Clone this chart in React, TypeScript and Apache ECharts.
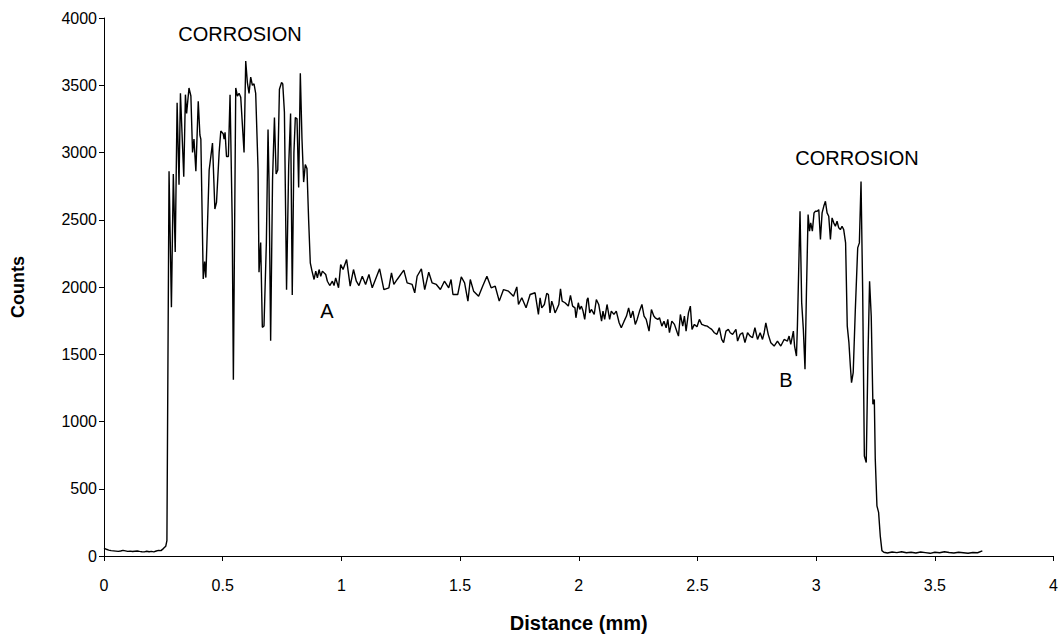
import React, { useEffect, useRef } from "react";
import * as echarts from "echarts";

type P = [number, number];

const xTicks = { min: 0, max: 4, interval: 0.5 };
const yTicks = { min: 0, max: 4000, interval: 500 };

const baselineLeft: P[] = [
  [0, 58], [0.01, 50], [0.02, 44], [0.03, 40], [0.04, 38], [0.05, 36], [0.06, 34], [0.07, 37],
  [0.08, 42], [0.09, 38], [0.1, 34], [0.11, 36], [0.12, 33], [0.13, 35], [0.14, 37], [0.15, 34],
  [0.16, 32], [0.17, 31], [0.18, 35], [0.19, 32], [0.2, 34], [0.21, 31], [0.22, 37], [0.23, 42],
  [0.24, 40], [0.25, 55], [0.26, 72], [0.265, 115],
];

const corrosionLeft: P[] = [
  [0.274, 2860], [0.284, 1850], [0.292, 2840], [0.3, 2260], [0.308, 3370], [0.316, 2760],
  [0.322, 3440], [0.336, 2820], [0.343, 3430], [0.348, 3290], [0.358, 3480], [0.366, 3420],
  [0.373, 3000], [0.379, 3100], [0.387, 2860], [0.397, 3380], [0.404, 3130], [0.408, 3100],
  [0.418, 2060], [0.424, 2190], [0.429, 2070], [0.443, 2870], [0.457, 3070], [0.467, 2580],
  [0.474, 2630], [0.485, 3000], [0.492, 3160], [0.502, 3140], [0.506, 3100], [0.51, 3150],
  [0.516, 2970], [0.524, 2970], [0.531, 3430], [0.54, 2500], [0.545, 1310], [0.555, 3480],
  [0.562, 3420], [0.569, 3440], [0.576, 3410], [0.59, 3000], [0.597, 3680], [0.604, 3520],
  [0.611, 3440], [0.618, 3560], [0.625, 3500], [0.632, 3510], [0.639, 3440], [0.649, 2870],
  [0.653, 2110], [0.66, 2330], [0.667, 1700], [0.674, 1710], [0.684, 2330], [0.691, 3170],
  [0.695, 2800], [0.702, 1600], [0.71, 2800], [0.718, 3260], [0.725, 2840], [0.732, 2870],
  [0.739, 3470], [0.748, 3520], [0.753, 3510], [0.76, 3300], [0.769, 1980], [0.778, 2900],
  [0.786, 3290], [0.793, 1940], [0.8, 3000], [0.806, 3260], [0.813, 3250], [0.82, 2740],
  [0.827, 3590], [0.834, 3100], [0.841, 2780], [0.848, 2910], [0.855, 2880], [0.862, 2500],
  [0.869, 2180], [0.876, 2120],
];

const plateau: P[] = [
  [0.885, 2056], [0.892, 2118], [0.899, 2068], [0.906, 2130], [0.913, 2080], [0.92, 2118],
  [0.934, 2093], [0.941, 2043], [0.951, 2011], [0.962, 2043], [0.969, 2011], [0.976, 2068],
  [0.988, 1994], [0.997, 2167], [1.007, 2130], [1.022, 2204], [1.037, 2006], [1.051, 2130],
  [1.063, 2043], [1.074, 2011], [1.088, 2080], [1.102, 2019], [1.116, 2093], [1.13, 1994],
  [1.161, 2135], [1.179, 1981], [1.2, 1994], [1.211, 2105], [1.221, 2019], [1.235, 2056],
  [1.263, 2125], [1.277, 2031], [1.298, 2019], [1.309, 1957], [1.319, 2080], [1.337, 2135],
  [1.351, 1981], [1.368, 2110], [1.382, 2031], [1.4, 2019], [1.417, 1981], [1.434, 2043],
  [1.452, 1994], [1.462, 2056], [1.47, 1944], [1.49, 1944], [1.505, 2076], [1.519, 2031],
  [1.533, 1895], [1.543, 2056], [1.557, 1969], [1.578, 1932], [1.595, 2006], [1.613, 2080],
  [1.631, 1994], [1.648, 2006], [1.665, 1895], [1.683, 1981], [1.704, 1969], [1.725, 1932],
  [1.739, 2001], [1.746, 1870], [1.76, 1920], [1.778, 1845], [1.795, 1944], [1.816, 1957],
  [1.83, 1796], [1.837, 1920], [1.844, 1845], [1.855, 1870], [1.865, 1952], [1.872, 1944],
  [1.879, 1808], [1.886, 1895], [1.893, 1858], [1.9, 1808], [1.907, 1833], [1.916, 1870],
  [1.923, 1986], [1.93, 1895], [1.942, 1883], [1.956, 1858], [1.965, 1937], [1.974, 1858],
  [1.984, 1845], [1.988, 1771], [1.998, 1883], [2.004, 1833], [2.011, 1858], [2.018, 1821],
  [2.025, 1759], [2.035, 1907], [2.039, 1920], [2.046, 1808], [2.053, 1833], [2.065, 1796],
  [2.074, 1907], [2.084, 1870], [2.096, 1746], [2.102, 1821], [2.109, 1759], [2.119, 1870],
  [2.13, 1759], [2.137, 1821], [2.148, 1796], [2.158, 1821], [2.17, 1734], [2.179, 1697],
  [2.191, 1746], [2.201, 1784], [2.21, 1845], [2.219, 1771], [2.228, 1821], [2.238, 1722],
  [2.246, 1759], [2.256, 1821], [2.266, 1870], [2.275, 1784], [2.284, 1759], [2.296, 1672],
  [2.306, 1833], [2.316, 1784], [2.322, 1771], [2.333, 1759], [2.34, 1771], [2.35, 1709],
  [2.359, 1746], [2.368, 1697], [2.375, 1759], [2.382, 1660], [2.392, 1746], [2.403, 1722],
  [2.415, 1660], [2.42, 1635], [2.428, 1796], [2.438, 1709], [2.445, 1784], [2.452, 1672],
  [2.462, 1808], [2.47, 1858], [2.477, 1685], [2.487, 1722], [2.498, 1704], [2.508, 1759],
  [2.518, 1722], [2.529, 1714], [2.541, 1709], [2.55, 1697], [2.56, 1685], [2.571, 1660],
  [2.582, 1648], [2.592, 1697], [2.602, 1610], [2.61, 1586], [2.62, 1672], [2.63, 1685],
  [2.638, 1660], [2.648, 1648], [2.662, 1685], [2.669, 1598], [2.68, 1648], [2.69, 1660],
  [2.7, 1586], [2.711, 1660], [2.722, 1635], [2.732, 1623], [2.742, 1697], [2.753, 1610],
  [2.764, 1660], [2.774, 1610], [2.781, 1660], [2.788, 1734], [2.798, 1648], [2.809, 1586],
  [2.823, 1561], [2.837, 1598], [2.851, 1561], [2.865, 1610], [2.879, 1598], [2.886, 1635],
  [2.893, 1573], [2.904, 1672], [2.909, 1561], [2.917, 1487], [2.921, 1709],
];

const corrosionRight: P[] = [
  [2.932, 2563], [2.939, 1883], [2.946, 1685], [2.953, 1388], [2.959, 1957], [2.966, 2538],
  [2.972, 2415], [2.977, 2477], [2.984, 2415], [2.991, 2551], [2.997, 2563], [3.004, 2563],
  [3.011, 2575], [3.018, 2353], [3.025, 2551], [3.032, 2600], [3.039, 2637], [3.046, 2551],
  [3.053, 2526], [3.06, 2353], [3.067, 2514], [3.074, 2477], [3.081, 2452], [3.088, 2489],
  [3.095, 2440], [3.102, 2427], [3.109, 2452], [3.116, 2427], [3.124, 2328], [3.131, 1709],
  [3.138, 1586], [3.144, 1413], [3.149, 1289], [3.156, 1363], [3.165, 1833], [3.175, 2291],
  [3.182, 2328], [3.189, 2785], [3.196, 1957], [3.203, 744], [3.211, 695], [3.218, 1462],
  [3.225, 2043], [3.232, 1783], [3.239, 1128], [3.245, 1164], [3.249, 720], [3.256, 373],
  [3.263, 324], [3.27, 150], [3.277, 40],
];

const baselineRight: P[] = [
  [3.285, 28], [3.3, 22], [3.32, 30], [3.34, 25], [3.36, 32], [3.38, 24], [3.4, 28], [3.42, 22],
  [3.44, 30], [3.46, 25], [3.48, 20], [3.5, 28], [3.52, 24], [3.54, 32], [3.56, 26], [3.58, 22],
  [3.6, 28], [3.62, 24], [3.64, 20], [3.66, 26], [3.68, 24], [3.7, 38],
];

const annotations = [
  { text: "CORROSION", x: 240, y: 34 },
  { text: "CORROSION", x: 857, y: 158 },
  { text: "A", x: 327, y: 311 },
  { text: "B", x: 786, y: 380 },
];

const FONT = "'Liberation Sans', Arial, sans-serif";

export default function App() {
  const ref = useRef<HTMLDivElement>(null);
  useEffect(() => {
    if (!ref.current) return;
    const chart = echarts.init(ref.current, undefined, { renderer: "svg" });
    const data = [...baselineLeft, ...corrosionLeft, ...plateau, ...corrosionRight, ...baselineRight];
    chart.setOption({
      animation: false,
      backgroundColor: "#ffffff",
      textStyle: { fontFamily: FONT },
      grid: { left: 104, right: 4, top: 18, bottom: 78 },
      xAxis: {
        type: "value",
        ...xTicks,
        name: "Distance (mm)",
        nameLocation: "middle",
        nameGap: 57,
        nameTextStyle: { fontFamily: FONT, fontWeight: "bold", fontSize: 20, color: "#000" },
        axisLine: { show: true, onZero: false, lineStyle: { color: "#000", width: 1 } },
        axisTick: { show: true, inside: false, length: 5, lineStyle: { color: "#000" } },
        axisLabel: { color: "#000", fontSize: 16, fontFamily: FONT, margin: 21 },
        splitLine: { show: false },
      },
      yAxis: {
        type: "value",
        ...yTicks,
        name: "Counts",
        nameLocation: "middle",
        nameGap: 77,
        nameRotate: 90,
        nameTextStyle: { fontFamily: FONT, fontWeight: "bold", fontSize: 18, color: "#000" },
        axisLine: { show: true, lineStyle: { color: "#000", width: 1 } },
        axisTick: { show: true, inside: false, length: 5, lineStyle: { color: "#000" } },
        axisLabel: {
          color: "#000",
          fontSize: 16,
          fontFamily: FONT,
          margin: 7,
          formatter: (v: number) => String(v),
        },
        splitLine: { show: false },
      },
      series: [
        {
          type: "line",
          data,
          showSymbol: false,
          symbol: "none",
          lineStyle: { color: "#000", width: 1.4 },
        },
      ],
      graphic: annotations.map((a) => ({
        type: "text",
        x: a.x,
        y: a.y,
        style: {
          text: a.text,
          fill: "#000",
          font: `20px ${FONT}`,
          textAlign: "center",
          textVerticalAlign: "middle",
        },
      })),
    });
    return () => chart.dispose();
  }, []);
  return (
    <div
      ref={ref}
      style={{ position: "absolute", left: 0, top: 0, width: 1061, height: 638 }}
    />
  );
}
